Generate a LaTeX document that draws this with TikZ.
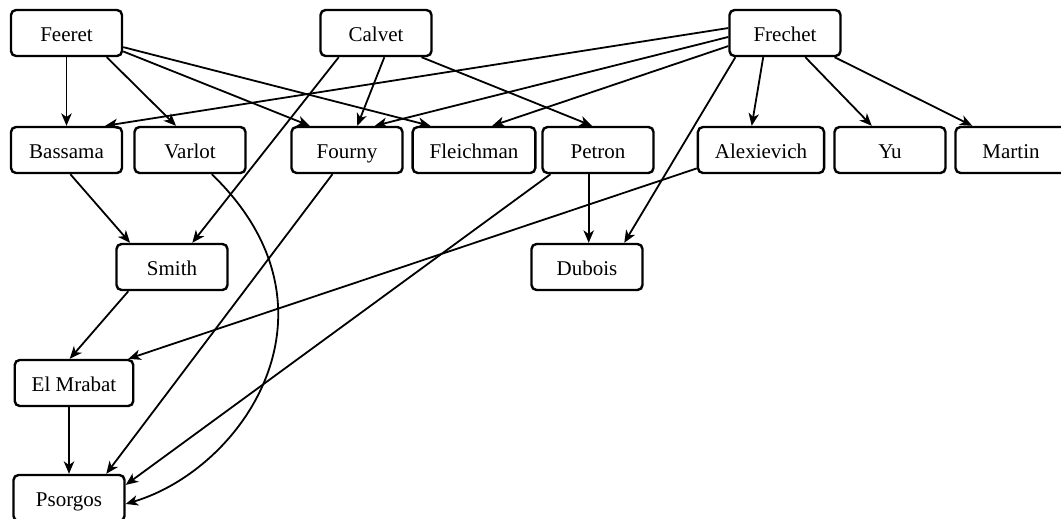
\documentclass[tikz,border=0pt]{standalone}
\usepackage{fontspec}
\setmainfont{Liberation Serif}
\usetikzlibrary{arrows.meta}
\tikzstyle{bx}=[draw, rounded corners=2.5pt, line width=1.2pt, minimum width=55.5pt, minimum height=23pt, inner xsep=8.5pt, text height=9pt, text depth=0.6pt, font=\fontsize{10.5}{12}\selectfont]
\tikzstyle{ar}=[line width=0.9pt, -{Stealth[length=6.2pt,width=5.2pt,inset=1.8pt]}]

\begin{document}
\begin{tikzpicture}[x=0.5pt, y=-0.5pt]
\useasboundingbox (0,0) rectangle (1061,519);
% top row
\node at (66.5,33) [bx](feeret){Feeret};
\node at (376,33) [bx](calvet){Calvet};
\node at (785,33) [bx](frechet){Frechet};
% second row
\node at (66.5,150) [bx](bassama){Bassama};
\node at (190,150) [bx](varlot){Varlot};
\node at (347,150) [bx](fourny){Fourny};
\node at (474,150) [bx](fleichman){Fleichman};
\node at (598,150) [bx](petron){Petron};
\node at (761,150) [bx](alexievich){Alexievich};
\node at (890,150) [bx](yu){Yu};
\node at (1011,150) [bx](martin){Martin};
% lower rows
\node at (172,267) [bx](smith){Smith};
\node at (587,267) [bx](dubois){Dubois};
\node at (74,383) [bx](elmrabat){El Mrabat};
\node at (69,498) [bx](psorgos){Psorgos};
% edges
\draw[ar] (feeret.south)--(bassama.north);
\draw[ar] (feeret.-31)--(varlot.120);
\draw[ar] (feeret.-18)--(fourny.147);
\draw[ar] (feeret.-14)--(fleichman.151);
\draw[ar] (calvet.213)--(smith.50);
\draw[ar] (calvet.-71)--(fourny.67);
\draw[ar] (calvet.-28)--(petron.104);
\draw[ar] (frechet.175)--(bassama.32);
\draw[ar] (frechet.184)--(fourny.41);
\draw[ar] (frechet.193)--(fleichman.53);
\draw[ar] (frechet.206)--(dubois.33);
\draw[ar] (frechet.-132)--(alexievich.111);
\draw[ar] (frechet.-50)--(yu.127);
\draw[ar] (frechet.-26)--(martin.148);
\draw[ar] (bassama.-81)--(smith.150);
\draw[ar] (varlot.-48) .. controls +(140,135) and +(118,-35) .. (psorgos.-6);
\draw[ar] (fourny.-121)--(psorgos.33);
\draw[ar] (petron.-153)--(psorgos.13);
\draw[ar] (petron.-111)--(petron.-111 |- dubois.north);
\draw[ar] (alexievich.196)--(elmrabat.24);
\draw[ar] (smith.-151)--(elmrabat.100);
\draw[ar] (psorgos.north |- elmrabat.south)--(psorgos.north);
\end{tikzpicture}
\end{document}
